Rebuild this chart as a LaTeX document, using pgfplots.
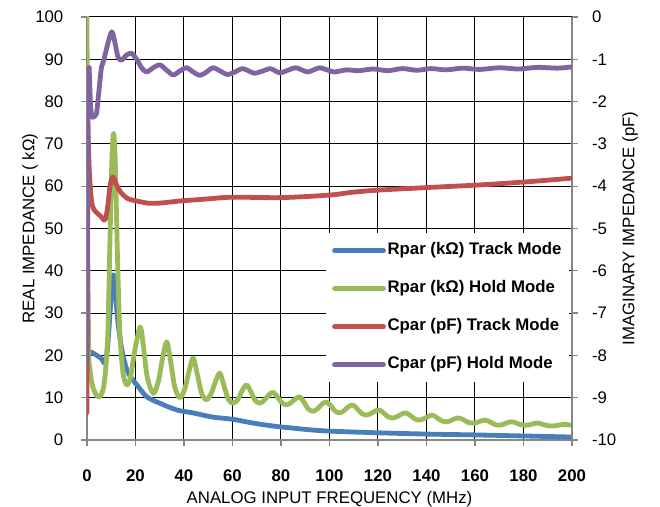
\documentclass[border=0pt]{standalone}
\usepackage{fontspec}
\setmainfont{Liberation Sans}
\usepackage{pgfplots}
\pgfplotsset{compat=1.18}

\definecolor{rtrack}{RGB}{74,126,187}
\definecolor{rhold}{RGB}{155,187,89}
\definecolor{ctrack}{RGB}{192,80,77}
\definecolor{chold}{RGB}{128,100,162}
\definecolor{axgray}{RGB}{134,134,134}
\newcommand{\fs}{\fontsize{8.4}{10}\selectfont}

\pgfplotsset{
  base/.style={
    width=242.5pt, height=211.5pt, scale only axis,
    xmin=0, xmax=200,
    /pgf/number format/assume math mode=true,
    tick align=outside, major tick length=2.8pt,
    tick style={axgray, line width=0.6pt},
    axis line style={axgray, line width=0.6pt},
    tick label style={font=\fs},
  },
  curve/.style={line width=2.4pt, line join=round, line cap=round, no markers},
}

\begin{document}
\begin{tikzpicture}
% left axis: real impedance (kOhm)
\begin{axis}[base, name=ax,
    ymin=0, ymax=100,
    axis x line*=bottom, axis y line*=left,
    xtick={0,20,...,200}, ytick={0,10,...,100},
    grid=major, major grid style={black, line width=0.5pt},
    xticklabel style={font=\fs\bfseries, yshift=-8.5pt},
    yticklabel style={xshift=-5.5pt},
  ]
  % Rpar track mode
  \addplot[curve, rtrack, smooth] coordinates {
    (0.5,21) (2,20.7) (4,20) (6,19.2) (7.5,18.2) (8.5,22) (9.5,30) (10.3,37)
    (11,39) (11.8,34) (12.8,27.7) (14.5,21) (16.5,16.5) (18.5,14.5) (20.6,13)
    (24.7,10.2) (30,8.7) (37,7.1) (43.7,6.4) (52,5.4) (60,4.9) (68.5,4.0)
    (76.7,3.3) (85,2.8) (92,2.4) (100,2.1) (120,1.7) (140,1.4) (160,1.2)
    (180,0.95) (200,0.7)
  };
  % Rpar hold mode
  \addplot[curve, rhold, forget plot] coordinates {(0,100) (0.3,45) (0.7,19)};
  \addplot[curve, rhold, smooth] coordinates {
    (0.7,19) (2,13.5) (3.5,11) (5.2,10.2) (7,13) (8.5,24) (9.5,48) (10.3,67)
    (11,72.5) (11.7,65) (12.5,45) (13.5,26) (14.8,16) (16.4,13) (18,15)
    (19.5,20.5) (21.9,26.7) (23.3,22) (24.8,15) (27.3,11) (29.5,14) (31.2,19.5)
    (32.9,23.2) (34.5,18.5) (36.2,12.5) (38.3,10) (40.3,12) (42.2,16.5)
    (43.8,19.4) (45.5,15.5) (47.3,11) (49.3,9.5) (51.2,11) (53.1,14) (54.8,15.8)
    (56.5,12.8) (58.3,9.6) (60.2,8.7) (62.1,9.5) (64,11.7) (65.8,13) (67.5,11.5)
    (69.3,9.4) (71.2,8.7) (73.1,9.4) (74.9,10.6) (76.7,11.3) (78.5,10.2)
    (80.4,8.8) (82.2,8.3) (84,8.8) (85.9,9.7) (87.7,10.2) (89.5,8.9) (91.3,7.3)
    (93.1,6.8) (94.9,7.3) (96.8,8.4) (98.6,9) (100.4,8.2) (102.2,6.9) (104.1,6.4)
    (105.9,6.9) (107.7,7.8) (109.6,8.3) (111.4,7.4) (113.2,6.3) (115,5.9)
    (116.8,6.2) (118.7,6.8) (120.5,7.1) (122.3,6.4) (124.1,5.5) (126,5.2)
    (127.8,5.5) (129.6,6.1) (131.5,6.4) (133.3,5.8) (135.1,5) (137,4.7)
    (138.8,5) (140.6,5.5) (142.4,5.9) (144.2,5.3) (146,4.6) (147.9,4.3)
    (149.7,4.5) (151.5,5) (153.4,5.2) (155.2,4.8) (157,4.2) (158.8,4)
    (160.6,4.1) (162.5,4.5) (164.3,4.7) (166.1,4.3) (168,3.7) (169.8,3.5)
    (171.6,3.7) (173.4,4.1) (175.3,4.3) (177.1,4) (178.9,3.6) (180.7,3.5)
    (182.6,3.6) (184.4,3.9) (186.2,4) (188,3.7) (189.9,3.4) (191.7,3.3)
    (193.5,3.4) (195.3,3.6) (197.2,3.7) (199,3.55) (200,3.5)
  };
\end{axis}

% right axis: imaginary impedance (pF)
\begin{axis}[base,
    ymin=-10, ymax=0,
    axis y line*=right, axis x line=none,
    ytick={-10,-9,...,0},
    yticklabels={-10,-9,-8,-7,-6,-5,-4,-3,-2,-1,0},
    yticklabel style={xshift=3.7pt},
    legend cell align=left,
    legend image code/.code={\draw[#1] (0pt,0pt) -- (24.5pt,0pt);},
    legend style={at={(0.995,0.49)}, anchor=north east, draw=none, fill=white,
      font=\fs\bfseries, row sep=9.4pt, inner xsep=3pt, inner ysep=4pt,
      nodes={inner sep=0.8pt, text height=6pt, text depth=2pt}},
  ]
  \addlegendimage{curve, rtrack}
  \addlegendentry{Rpar (kΩ) Track Mode}
  \addlegendimage{curve, rhold}
  \addlegendentry{Rpar (kΩ) Hold Mode}
  % Cpar track mode
  \addplot[curve, ctrack, forget plot] coordinates {(0,-9.35) (0.3,-2.5)};
  \addplot[curve, ctrack, smooth] coordinates {
    (0.3,-2.5) (1,-3.7) (2,-4.4) (3.5,-4.6) (5.5,-4.7) (7.4,-4.8) (8.5,-4.5)
    (9.5,-4.0) (10.7,-3.78) (12,-3.95) (14,-4.15) (17,-4.3) (20.6,-4.35)
    (25,-4.4) (30,-4.4) (38.4,-4.35) (50,-4.3) (60,-4.26) (80,-4.27)
    (100,-4.21) (110,-4.14) (121,-4.09) (141,-4.03) (162,-3.97) (183,-3.89)
    (200,-3.81)
  };
  \addlegendentry{Cpar (pF) Track Mode}
  % Cpar hold mode
  \addplot[curve, chold, forget plot] coordinates {(0,-8.2) (0.5,-1.3) (0.9,-1.2)};
  \addplot[curve, chold, smooth] coordinates {
    (0.9,-1.2) (1.4,-2.0) (2,-2.36) (3,-2.35) (4,-2.25) (5,-1.7) (6,-1.18)
    (7,-1.0) (8.5,-0.65) (10.2,-0.35) (11.5,-0.6) (12.8,-0.95) (14.3,-1.02)
    (16.3,-0.9) (18.4,-0.86) (20.5,-1.0) (22.5,-1.2) (24.6,-1.3) (27.3,-1.2)
    (30,-1.13) (32.7,-1.25) (35.5,-1.37) (38.2,-1.28) (41,-1.2) (43.8,-1.3)
    (46.6,-1.38) (49.3,-1.3) (52,-1.2) (55,-1.28) (58,-1.36) (61,-1.3)
    (64,-1.22) (66.5,-1.27) (69,-1.33) (72.3,-1.28) (75.5,-1.22) (77.5,-1.27)
    (79.6,-1.32) (82.8,-1.26) (86,-1.2) (88.5,-1.25) (91,-1.3) (93.5,-1.25)
    (96,-1.2) (99,-1.25) (102,-1.3) (107,-1.25) (112,-1.27) (118,-1.23)
    (124,-1.27) (130,-1.22) (136,-1.26) (142,-1.22) (148,-1.25) (155,-1.21)
    (162,-1.24) (170,-1.2) (178,-1.23) (186,-1.19) (194,-1.21) (200,-1.18)
  };
  \addlegendentry{Cpar (pF) Hold Mode}
\end{axis}

\node[font=\fs, rotate=90] at ([xshift=-28.5pt]ax.west) {REAL IMPEDANCE ( kΩ)};
\node[font=\fs, rotate=90] at ([xshift=29pt]ax.east) {IMAGINARY IMPEDANCE (pF)};
\node[font=\fs] at ([yshift=-29.5pt]ax.south) {ANALOG INPUT FREQUENCY (MHz)};

\pgfresetboundingbox
\path ([shift={(-43.5pt,-33.5pt)}]ax.south west) rectangle ([shift={(44pt,8.5pt)}]ax.north east);
\end{tikzpicture}
\end{document}
